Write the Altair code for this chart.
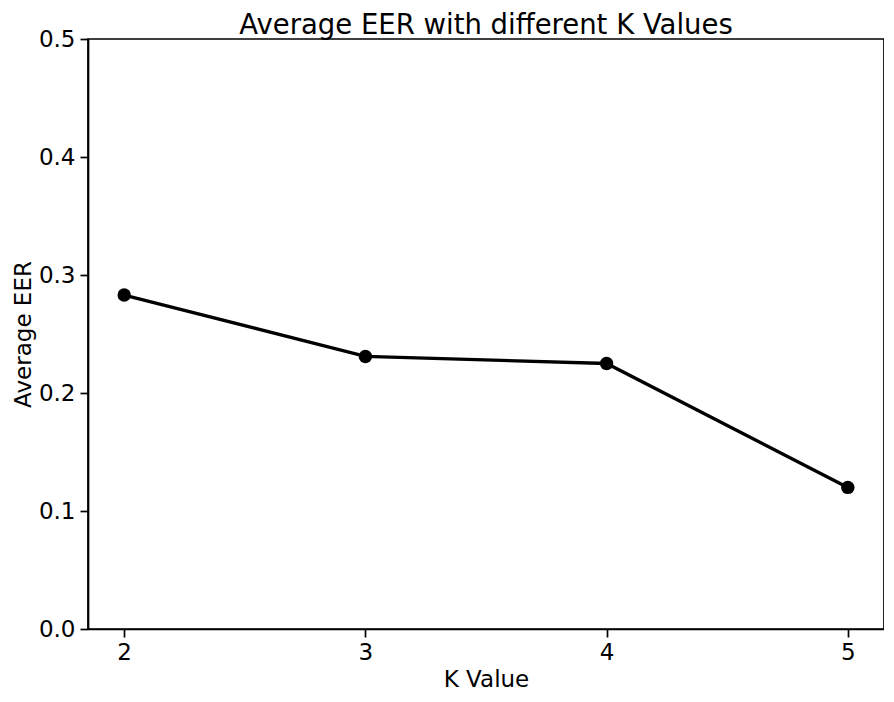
import altair as alt
import pandas as pd

k_values = [2, 3, 4, 5]
avg_eer = [0.283, 0.231, 0.225, 0.120]
y_ticks = [0.0, 0.1, 0.2, 0.3, 0.4, 0.5]

df = pd.DataFrame({"k": k_values, "eer": avg_eer})

FONT = "DejaVu Sans"

x = alt.X("k:Q", title="K Value",
          scale=alt.Scale(domain=[1.85, 5.15], nice=False, zero=False),
          axis=alt.Axis(values=k_values, format="d", grid=False,
                        labelPadding=4, titlePadding=4))
y = alt.Y("eer:Q", title="Average EER",
          scale=alt.Scale(domain=[0, 0.5], nice=False),
          axis=alt.Axis(values=y_ticks, format=".1f", grid=False,
                        labelPadding=5, titlePadding=3))

line = alt.Chart(df).mark_line(color="black", strokeWidth=3.4).encode(x=x, y=y)
pts = alt.Chart(df).mark_circle(color="black", opacity=1, size=180).encode(x=x, y=y)

chart = (line + pts).properties(
    width=796, height=590,
    title=alt.TitleParams("Average EER with different K Values", font=FONT,
                          fontSize=27.5, fontWeight="normal", color="black",
                          anchor="middle", offset=0, dy=11),
    autosize=alt.AutoSizeParams(type="none"),
    padding={"left": 80, "top": 31, "right": 0, "bottom": 65},
).configure_view(
    stroke="black", strokeWidth=1.7
).configure_axis(
    labelFont=FONT, titleFont=FONT, labelFontSize=23, titleFontSize=23,
    titleFontWeight="normal", labelColor="black", titleColor="black",
    domainColor="black", domainWidth=1.7, tickColor="black", tickWidth=1.7,
    tickSize=8
)

chart.save("out.html", embed_options={"renderer": "svg", "actions": False})
